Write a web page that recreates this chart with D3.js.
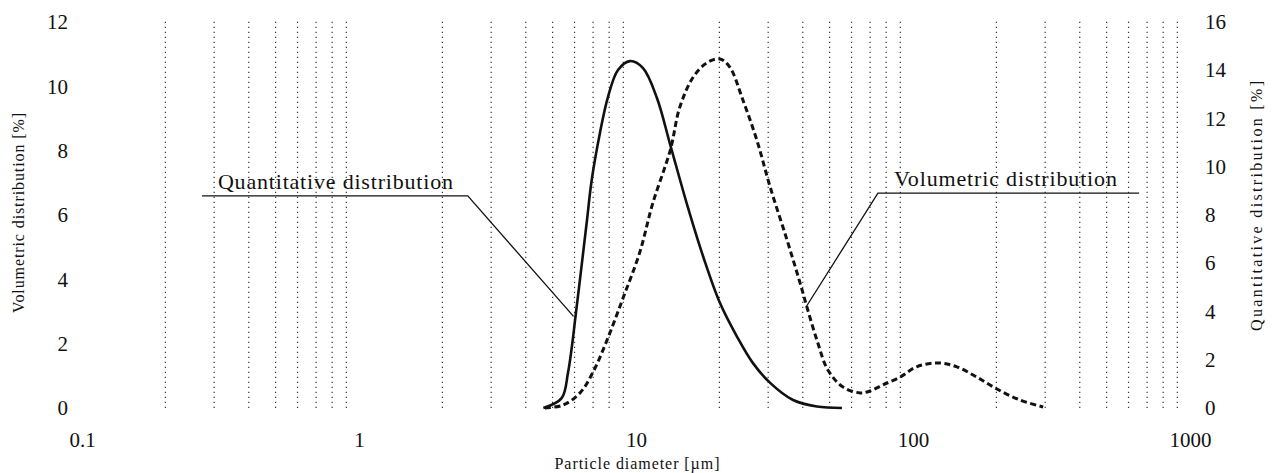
<!DOCTYPE html>
<html>
<head>
<meta charset="utf-8">
<script src="https://cdn.jsdelivr.net/npm/d3@7"></script>
<style>
        body { margin: 0; background: #fff; }
        text { font-family: "Liberation Serif", "Times New Roman", Times, serif; fill: #111; }
</style>
</head>
<body>
<div id="chart"></div>
<script>

// particle diameter [um] and values
var xTicks = [0.1, 1, 10, 100, 1000];
var xTickLabels = ["0.1", "1", "10", "100", "1000"];
var gridValues = [0.2, 0.3, 0.4, 0.5, 0.6, 0.7, 0.8, 0.9,
                  2, 3, 4, 5, 6, 7, 8, 9,
                  20, 30, 40, 50, 60, 70, 80, 90,
                  200, 300, 400, 500, 600, 700, 800, 900];
var leftTicks = [0, 2, 4, 6, 8, 10, 12];
var rightTicks = [0, 2, 4, 6, 8, 10, 12, 14, 16];

// quantitative distribution (solid, right axis)
var quantSize = [4.63, 5.39, 5.68, 5.91, 6.02, 6.28, 6.64, 6.92, 7.41, 7.92, 8.61, 9.51,
                 10.6, 11.9, 13.3, 15.3, 17.5, 20.1, 23.2, 26.4, 30.5, 36.9, 45.0, 55.4];
var quantValue = [0, 0.41, 1.45, 2.82, 3.6, 5.35, 7.7, 9.45, 11.4, 12.89, 14.01, 14.38,
                  14.09, 12.85, 10.9, 8.42, 6.26, 4.35, 2.94, 1.87, 1.04, 0.33, 0.06, 0];

// volumetric distribution (dashed, left axis)
var volSize = [4.69, 5.45, 6.28, 7.0, 7.86, 8.98, 10.3, 11.5, 13.3, 14.4, 16.1, 18.0,
               20.1, 21.8, 24.3, 27.3, 30.5, 35.1, 39.1, 41.4, 45.0, 49.3, 55.9, 64.4,
               70.0, 77.9, 89.8, 103, 123, 144, 170, 201, 243, 295];
var volValue = [0, 0.09, 0.47, 1.12, 2.11, 3.42, 4.82, 6.37, 8.02, 9.36, 10.29, 10.73,
                10.85, 10.60, 9.58, 8.33, 6.87, 5.22, 3.89, 3.14, 2.11, 1.18, 0.65, 0.47,
                0.53, 0.72, 0.96, 1.28, 1.40, 1.28, 0.96, 0.59, 0.25, 0.03];

// leader lines: [start, elbow, anchor on curve] in data units
var quantLabel = "Quantitative distribution";
var quantLeader = [[0.271, 8.79], [2.47, 8.79], [5.95, 3.8]];   // right axis units
var volLabel = "Volumetric distribution";
var volLeader = [[655, 6.68], [74.7, 6.68], [41.1, 3.14]];       // left axis units

var W = 1278, H = 473;
var FONT = "'Liberation Serif', 'Times New Roman', Times, serif";

var x = d3.scaleLog().domain([0.1, 1000]).range([82, 1190]);
var yL = d3.scaleLinear().domain([0, 12]).range([408, 22]);
var yR = d3.scaleLinear().domain([0, 16]).range([408, 22]);

var svg = d3.select("#chart").append("svg")
        .attr("width", W)
        .attr("height", H)
        .attr("font-family", FONT);

// dotted grid
svg.append("g").attr("class", "grid")
        .selectAll("line")
        .data(gridValues)
        .enter().append("line")
        .attr("x1", (d) => x(d))
        .attr("x2", (d) => x(d))
        .attr("y1", yL(0))
        .attr("y2", yL(12.12))
        .style("stroke", "#333")
        .style("stroke-width", "1.2px")
        .style("stroke-dasharray", "1.3,3.7");

// axes (labels only, no domain or ticks)
var xAxis = svg.append("g")
        .attr("transform", "translate(0," + 447 + ")")
        .call(d3.axisBottom(x).tickValues(xTicks)
                .tickFormat((d, i) => xTickLabels[i]).tickSize(0).tickPadding(0));
var lAxis = svg.append("g")
        .attr("transform", "translate(" + 68 + ",0)")
        .call(d3.axisLeft(yL).tickValues(leftTicks).tickSize(0).tickPadding(0));
var rAxis = svg.append("g")
        .attr("transform", "translate(" + 1205 + ",0)")
        .call(d3.axisRight(yR).tickValues(rightTicks).tickSize(0).tickPadding(0));

[xAxis, lAxis, rAxis].forEach(function(g) {
        g.attr("font-family", FONT).attr("font-size", 21);
        g.select(".domain").remove();
        g.selectAll("text").attr("fill", "#111");
});
xAxis.selectAll("text").attr("dy", 0);

// axis titles
svg.append("text")
        .attr("x", 637).attr("y", 469)
        .attr("text-anchor", "middle")
        .attr("textLength", 165).attr("lengthAdjust", "spacing")
        .style("font-size", "16px")
        .text("Particle diameter [\u00b5m]");

svg.append("text")
        .attr("transform", "translate(24,213) rotate(-90)")
        .attr("text-anchor", "middle")
        .attr("textLength", 200).attr("lengthAdjust", "spacing")
        .style("font-size", "16px")
        .text("Volumetric distribution [%]");

svg.append("text")
        .attr("transform", "translate(1262,206) rotate(-90)")
        .attr("text-anchor", "middle")
        .attr("textLength", 250).attr("lengthAdjust", "spacing")
        .style("font-size", "16px")
        .text("Quantitative distribution [%]");

// curves
function series(xs, ys) {
        return xs.map((d, i) => [d, ys[i]]);
}

var lineR = d3.line().x((d) => x(d[0])).y((d) => yR(d[1])).curve(d3.curveCatmullRom.alpha(0.5));
var lineL = d3.line().x((d) => x(d[0])).y((d) => yL(d[1])).curve(d3.curveCatmullRom.alpha(0.5));

svg.append("path")
        .datum(series(volSize, volValue))
        .attr("d", lineL)
        .style("fill", "none")
        .style("stroke", "#111")
        .style("stroke-width", "3px")
        .style("stroke-dasharray", "6,3.5");

svg.append("path")
        .datum(series(quantSize, quantValue))
        .attr("d", lineR)
        .style("fill", "none")
        .style("stroke", "#111")
        .style("stroke-width", "2.6px");

// annotations
function drawLeader(pts, yScale, label, textLen) {
        var leader = d3.line().x((d) => x(d[0])).y((d) => yScale(d[1]));
        svg.append("path")
                .datum(pts)
                .attr("d", leader)
                .style("fill", "none")
                .style("stroke", "#111")
                .style("stroke-width", "1.3px");
        var left = Math.min(x(pts[0][0]), x(pts[1][0]));
        svg.append("text")
                .attr("x", left + 16)
                .attr("y", yScale(pts[0][1]) - 7)
                .attr("textLength", textLen).attr("lengthAdjust", "spacing")
                .style("font-size", "22px")
                .text(label);
}

drawLeader(quantLeader, yR, quantLabel, 235);
drawLeader(volLeader, yL, volLabel, 223);

</script>
</body>
</html>
